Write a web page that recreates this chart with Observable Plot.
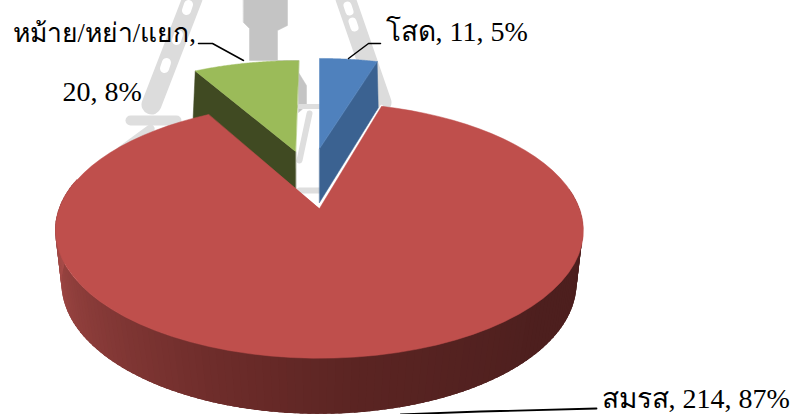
<!DOCTYPE html>
<html><head><meta charset="utf-8">
<script src="https://cdn.jsdelivr.net/npm/d3@7"></script>
<script src="https://cdn.jsdelivr.net/npm/@observablehq/plot@0.6"></script>
<style>html,body{margin:0;padding:0;background:#fff;overflow:hidden}svg{display:block}</style>
</head><body><div id="c"></div>
<script>
const categories = ["โสด","สมรส","หม้าย/หย่า/แยก"];
const counts = [11,214,20];
const percents = ["5%","87%","8%"];
const explodeU = [0,0,-0.10];
const explodeV = [0.528,0,0.50];
const topColors = ["#4f81bd","#bf4f4c","#9bbb59"];
const cutColors = ["#3b6291","#8a3a37","#404a22"];
const wallStops = [Math.PI*0.5,Math.PI*0.72,Math.PI*0.95,Math.PI*1.1,Math.PI*1.5];
const wallColors = ["#4c1f1e","#4d1f1e","#5a2422","#6d2c2a","#a84c49"];

const total = d3.sum(counts);
const cx = 319, topPlane = {k:.172,A:260,B:124,y0:208}, botPlane = {k:.14,A:255,B:128,y0:265};
function proj(p,u,v){const w=1+p.k*v;return {x:cx+p.A*u/w,y:p.y0-p.B*v/w};}
let acc=0;
const slices = counts.map((c,i)=>{const a0=acc/total*2*Math.PI;acc+=c;return {i,a0,a1:acc/total*2*Math.PI,du:explodeU[i],dv:explodeV[i]};});
function rim(s,n=80){return d3.range(n+1).map(j=>{const t=s.a0+(s.a1-s.a0)*j/n;return [s.du+Math.sin(t),s.dv+Math.cos(t)];});}
const wedge=(s,p)=>[[s.du,s.dv],...rim(s)].map(([u,v])=>proj(p,u,v));
const cutFace=(s,t)=>{ const a=[s.du,s.dv],b=[s.du+Math.sin(t),s.dv+Math.cos(t)];
  return [proj(topPlane,...a),proj(topPlane,...b),proj(botPlane,...b),proj(botPlane,...a)];};

// front wall of the large slice, overlapping strips so the shading can vary along it
const step=Math.PI/120;
const wallAngles=d3.range(Math.PI*0.45,Math.PI*1.56,step);
const wall=[];
wallAngles.forEach((t,i)=>{[t,t+step*2.5].forEach(a=>{
  const u=Math.sin(a),v=Math.cos(a),p=proj(topPlane,u,v),q=proj(botPlane,u,v);
  wall.push({x1:p.x,y1:p.y,x2:q.x,y2:q.y,z:i,t});});});

const green=slices[2],blue=slices[0],red=slices[1];
const poly=(pts,fill,extra={})=>Plot.line(pts,{x:"x",y:"y",fill,stroke:fill,strokeWidth:.5,curve:"linear-closed",...extra});

const leaders=[
 {id:0,pts:[[380,43],[368,43],[348,58]],w:1.5},
 {id:2,pts:[[198,43],[212,43],[243,60]],w:1.5},
 {id:1,pts:[[596,408],[480,411],[400,414]],w:1.8}];
const leaderRows=leaders.flatMap(l=>l.pts.map(([x,y])=>({x,y,id:l.id})));

// faint background emblem
const emblemBands=[
 {c:"#dcdcdc",w:20,pts:[[192,-2],[151,104]]},
 {c:"#dcdcdc",w:20,pts:[[345,-2],[381,102]]},
 {c:"#dedede",w:10,pts:[[130,120],[176,120]]},
 {c:"#dedede",w:8,pts:[[120,150],[150,128]]},
 {c:"#dedede",w:6,pts:[[299,160],[309,113]]},
 {c:"#dedede",w:5,pts:[[299,106],[320,106]]},
 {c:"#dedede",w:6,pts:[[299,190],[320,190]]},
 {c:"#ffffff",w:9,pts:[[188,4],[186,10]]},
 {c:"#ffffff",w:9,pts:[[178,34],[176,40]]},
 {c:"#ffffff",w:9,pts:[[166,62],[164,68]]},
 {c:"#ffffff",w:8,pts:[[347,5],[349,11]]},
 {c:"#ffffff",w:8,pts:[[352,21],[354,27]]}
];
const emblemRows=emblemBands.flatMap((e,i)=>e.pts.map(([x,y])=>({x,y,i})));
const figureX=[243,287,287,277,277,298,306,306,298,298,249,249,243];
const figureY=[-2,-2,25,30,60,72,85,105,112,60,60,28,22];
const figure=figureX.map((x,i)=>({x,y:figureY[i]}));

const labelFont={fontFamily:"'Liberation Serif','Times New Roman',serif",fill:"#000",lineAnchor:"middle",textAnchor:"start"};
const labelRows=[
 {x:385,y:32,t:`${categories[0]}, ${counts[0]}, ${percents[0]}`},
 {x:62,y:92,t:`${counts[2]}, ${percents[2]}`},
 {x:601,y:399,t:`${categories[1]}, ${counts[1]}, ${percents[1]}`}];
const longLabel=[{x:12,y:33,t:`${categories[2]},`}];

const chart=Plot.plot({
 width:795,height:414,margin:0,
 x:{type:"linear",domain:[0,795],range:[0,795],axis:null},
 y:{type:"linear",domain:[0,414],range:[0,414],axis:null},
 color:{type:"linear",domain:wallStops,range:wallColors},
 style:{background:"#fff"},
 marks:[
  poly(figure,"#c4c4c4"),
  ...emblemBands.map((e,i)=>Plot.line(emblemRows.filter(d=>d.i===i),{x:"x",y:"y",stroke:e.c,strokeWidth:e.w})),
  poly(cutFace(green,green.a0),cutColors[2]),
  poly(wedge(green,topPlane),topColors[2]),
  poly(cutFace(blue,blue.a1),cutColors[0]),
  poly(wedge(blue,topPlane),topColors[0]),
  Plot.area(wall,{x1:"x1",y1:"y1",x2:"x2",y2:"y2",z:"z",fill:"t"}),
  Plot.line([proj(topPlane,0,0),proj(topPlane,Math.sin(red.a0),Math.cos(red.a0))],{x:"x",y:"y",stroke:"#fff",strokeWidth:3}),
  poly(wedge(red,topPlane),topColors[1]),
  ...leaders.map(l=>Plot.line(leaderRows.filter(d=>d.id===l.id),{x:"x",y:"y",stroke:"#000",strokeWidth:l.w})),
  Plot.text(labelRows,{x:"x",y:"y",text:"t",fontSize:28,...labelFont}),
  Plot.text(longLabel,{x:"x",y:"y",text:"t",fontSize:26.5,...labelFont})
 ]
});
document.getElementById("c").append(chart);
</script></body></html>
